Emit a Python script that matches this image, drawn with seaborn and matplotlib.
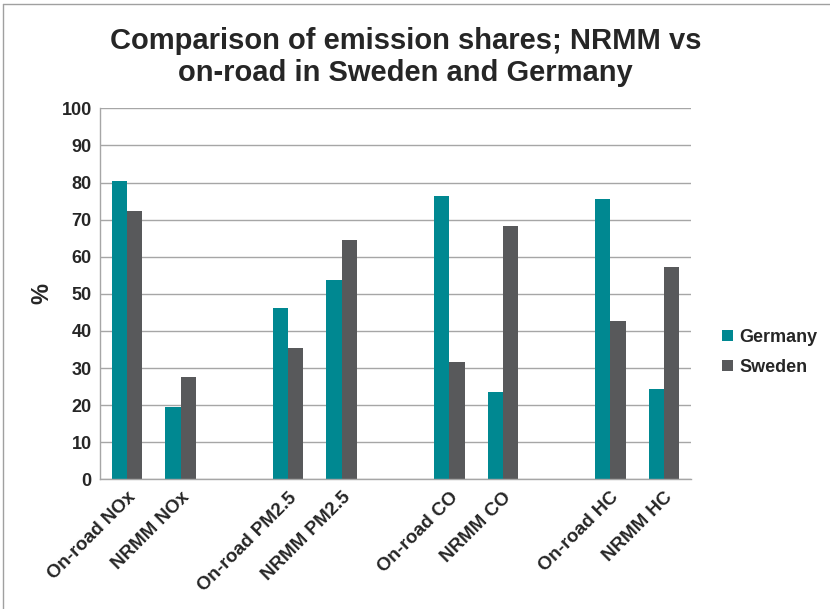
import pandas as pd
import matplotlib
matplotlib.use("Agg")
import matplotlib.pyplot as plt
from matplotlib.lines import Line2D
import seaborn as sns

# categories (blank entries are the gaps between pollutant groups)
categories = ["On-road NOx", "NRMM NOx", " ",
              "On-road PM2.5", "NRMM PM2.5", "  ",
              "On-road CO", "NRMM CO", "   ",
              "On-road HC", "NRMM HC"]
measured = ["On-road NOx", "NRMM NOx", "On-road PM2.5", "NRMM PM2.5",
            "On-road CO", "NRMM CO", "On-road HC", "NRMM HC"]
germany = [80.4, 19.6, 46.3, 53.7, 76.5, 23.5, 75.6, 24.4]
sweden = [72.4, 27.6, 35.4, 64.6, 31.7, 68.3, 42.7, 57.3]
countries = ["Germany", "Sweden"]
colors = {"Germany": "#008891", "Sweden": "#58595B"}

df = pd.DataFrame({
    "Category": measured * 2,
    "Country": ["Germany"] * len(measured) + ["Sweden"] * len(measured),
    "Share": germany + sweden,
})

sns.set_style("white")
plt.rcParams["font.family"] = ["Liberation Sans", "DejaVu Sans"]

fig = plt.figure(figsize=(8.3, 6.09), dpi=100)
ax = fig.add_axes([0.1205, 0.213, 0.712, 0.609])

sns.barplot(data=df, x="Category", y="Share", hue="Country", order=categories,
            hue_order=countries, palette=colors, width=0.57, saturation=1,
            linewidth=0, ax=ax)

ax.set_ylim(0, 100)
ax.set_yticks(range(0, 101, 10))
ax.set_xlim(-0.5, len(categories) - 0.5)
ax.grid(axis="y", color="#a6a6a6", linewidth=1)
ax.set_axisbelow(True)
for side in ["top", "right"]:
    ax.spines[side].set_visible(False)
for side in ["left", "bottom"]:
    ax.spines[side].set_color("#a6a6a6")
    ax.spines[side].set_linewidth(1)
ax.tick_params(axis="both", length=0, labelsize=13)
ax.tick_params(axis="y", pad=6)
ax.tick_params(axis="x", pad=7)
for lbl in ax.get_yticklabels():
    lbl.set_fontweight("bold")
ax.set_xticks(range(len(categories)))
ax.set_xticklabels(categories, rotation=45, ha="right", rotation_mode="anchor",
                   fontweight="bold", fontsize=13.5)
ax.set_xlabel("")
ax.set_ylabel("%", fontsize=17, fontweight="bold", labelpad=6)

leg = ax.legend(loc="center left", bbox_to_anchor=(1.025, 0.342), frameon=False,
                handlelength=0.6, handleheight=0.6, handletextpad=0.35,
                labelspacing=0.7, prop={"weight": "bold", "size": 13})

fig.text(0.489, 0.906, "Comparison of emission shares; NRMM vs\non-road in Sweden and Germany",
         ha="center", va="center", fontsize=21, fontweight="bold", linespacing=1.2)

# thin frame at top and left, as in the source slide
fig.add_artist(Line2D([0.0036, 1.0], [0.9934, 0.9934], color="#a0a0a0", linewidth=1))
fig.add_artist(Line2D([0.0036, 0.0036], [0.0, 0.9934], color="#a0a0a0", linewidth=1))

fig.savefig("out.png", dpi=100)
